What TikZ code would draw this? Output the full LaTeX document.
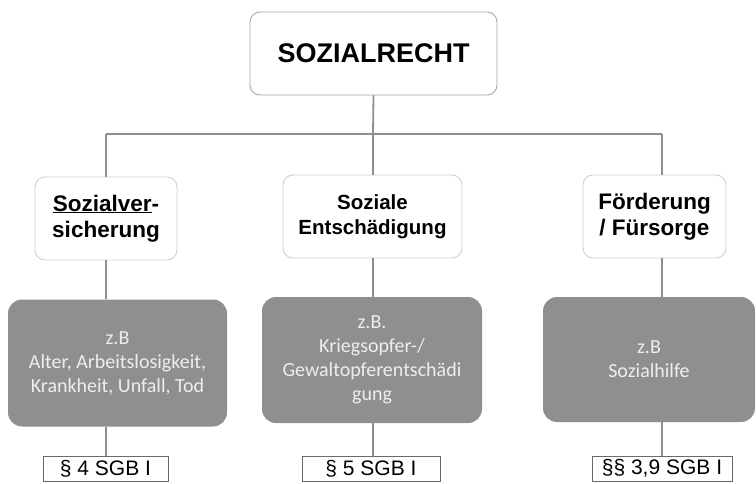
\documentclass[tikz,border=0pt]{standalone}
\usepackage{fontspec}
\setmainfont{Liberation Sans}
\newfontfamily\grayfont{Carlito}
\definecolor{linegray}{HTML}{8E8E8E}
\definecolor{topborder}{HTML}{A8A8A8}
\definecolor{catborder}{HTML}{CFCFCF}
\definecolor{boxgray}{HTML}{8F8F8F}
\definecolor{graytext}{HTML}{EEEEEE}
\definecolor{lawborder}{HTML}{6A6A6A}
\begin{document}
\begin{tikzpicture}[x=1pt,y=-1pt,
  conn/.style={draw=linegray,line width=1.8pt},
  topbox/.style={draw=topborder,line width=0.9pt,rounded corners=10pt,fill=white,align=center,
    font=\fontsize{27}{32}\selectfont\bfseries,inner sep=0pt},
  catbox/.style={draw=catborder,line width=0.9pt,rounded corners=10pt,fill=white,align=center,
    font=\fontsize{22.5}{26.5}\selectfont\bfseries,inner sep=0pt,minimum height=83pt},
  graybox/.style={fill=boxgray,rounded corners=14pt,text=graytext,align=center,
    font=\grayfont\fontsize{20}{24}\selectfont,inner sep=0pt},
  lawbox/.style={draw=lawborder,line width=0.8pt,fill=white,
    font=\fontsize{21}{25}\selectfont,inner sep=0pt,minimum height=25pt}]
\useasboundingbox (0,0) rectangle (756,483);

\node[topbox,minimum width=247pt,minimum height=83pt] (top) at (373.5,53.5) {SOZIALRECHT};

\node[catbox,minimum width=142pt] (L1) at (106,218.5) {\underline{Sozialver}-\\sicherung};
\node[catbox,minimum width=179pt,font=\fontsize{20.5}{25}\selectfont\bfseries] (M1) at (372.5,216.5) {Soziale\\Entschädigung};
\node[catbox,minimum width=143pt] (R1) at (654.5,216.5) {Förderung\\/ Fürsorge};

\node[graybox,minimum width=219pt,minimum height=127pt] (L2) at (117.5,363) {z.B\\Alter, Arbeitslosigkeit,\\Krankheit, Unfall, Tod};
\node[graybox,minimum width=220pt,minimum height=126pt] (M2) at (372,360) {z.B.\\Kriegsopfer-/\\Gewaltopferentschädi\\gung};
\node[graybox,minimum width=212pt,minimum height=125pt] (R2) at (649,359.5) {z.B\\Sozialhilfe};

\node[lawbox,minimum width=125pt] (L3) at (105.5,468.5) {§ 4 SGB I};
\node[lawbox,minimum width=138pt] (M3) at (371,468.5) {§ 5 SGB I};
\node[lawbox,minimum width=140pt] (R3) at (662,468.5) {§§ 3,9 SGB I};

\coordinate (jl) at (106,134);
\coordinate (jm) at (373,134);
\coordinate (jr) at (662,134);

\draw[conn] (top.south) -- (jm);
\draw[conn] (jl) -- (jr);
\draw[conn] (jl) -- (jl |- L1.north);
\draw[conn] (jm) -- (jm |- M1.north);
\draw[conn] (jr) -- (jr |- R1.north);
\draw[conn] (jl |- L1.south) -- (jl |- L2.north);
\draw[conn] (jm |- M1.south) -- (jm |- M2.north);
\draw[conn] (jr |- R1.south) -- (jr |- R2.north);
\draw[conn] (jl |- L2.south) -- (jl |- L3.north);
\draw[conn] (jm |- M2.south) -- (jm |- M3.north);
\draw[conn] (jr |- R2.south) -- (jr |- R3.north);
\end{tikzpicture}
\end{document}
